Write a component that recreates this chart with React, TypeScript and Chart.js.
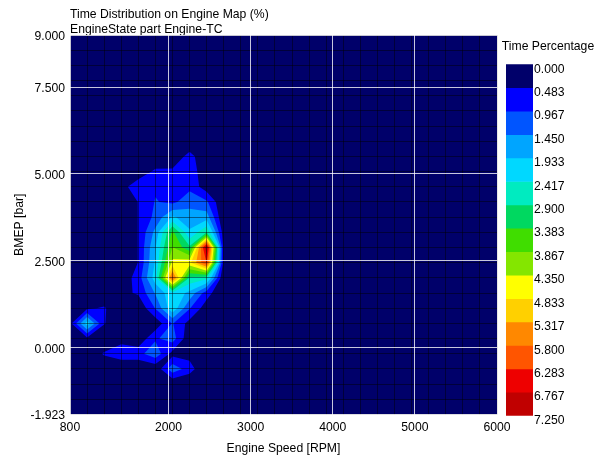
import React, { useEffect, useRef } from "react";
import { Chart, registerables } from "chart.js";

Chart.register(...registerables);

const speedNodes = [800, 1008, 1216, 1424, 1632, 1840, 2048, 2256, 2464, 2672, 2880, 3088, 3296, 3504, 3712, 3920, 4128, 4336, 4544, 4752, 4960, 5168, 5376, 5584, 5792, 6000];
const bmepNodes = [-1.923, -1.486, -1.049, -0.612, -0.175, 0.262, 0.699, 1.136, 1.572, 2.009, 2.446, 2.883, 3.32, 3.757, 4.194, 4.631, 5.068, 5.505, 5.942, 6.379, 6.815, 7.252, 7.689, 8.126, 8.563, 9.0];

// rows follow bmepNodes, columns follow speedNodes; everything not listed reads 0
const row3 = [0, 0, 0, 0, 0, 0.1, 1.3, 0.7, 0, 0];
const row4 = [0, 0, 0.55, 0.8, 0.8, 1.3, 0.3, 0.3, 0, 0];
const row5 = [0.45, 0.35, 0, 0.3, 0.1, 0.9, 1.2, 0.1, 0, 0];
const row6 = [0.3, 2.2, 0.52, 0, 0, 0.15, 1.0, 0.3, 0, 0];
const row7 = [0, 0.4, 0.55, 0, 0.05, 1.0, 2.3, 1.0, 0.2, 0];
const row8 = [0, 0, 0, 0.35, 0.55, 1.5, 2.3, 1.8, 0.7, 0];
const row9 = [0, 0, 0, 0.15, 0.7, 2.2, 6.0, 2.8, 2.6, 0];
const row10 = [0, 0, 0, 0, 0.5, 2.0, 4.5, 4.7, 6.3, 0.25];
const row11 = [0, 0, 0, 0, 0.5, 1.9, 3.9, 3.0, 7.2, 0.25];
const row12 = [0, 0, 0, 0, 0.5, 1.6, 3.5, 2.0, 2.9, 0.2];
const row13 = [0, 0, 0, 0, 0.5, 1.1, 2.0, 1.7, 1.7, 0];
const row14 = [0, 0, 0, 0, 0.5, 1.0, 0.85, 1.25, 1.05, 0];
const row15 = [0, 0, 0, 0.25, 0.85, 0.9, 0.8, 0.85, 0.2, 0];
const row16 = [0, 0, 0, 0, 0.1, 0.6, 0.6, 0.8, 0.1, 0];
const row17 = [0, 0, 0, 0, 0, 0, 0.05, 0.7, 0, 0];
const rowsByIndex: Record<number, number[]> = { 3: row3, 4: row4, 5: row5, 6: row6, 7: row7, 8: row8, 9: row9, 10: row10, 11: row11, 12: row12, 13: row13, 14: row14, 15: row15, 16: row16, 17: row17 };

const levels = [0, 0.483, 0.967, 1.45, 1.933, 2.417, 2.9, 3.383, 3.867, 4.35, 4.833, 5.317, 5.8, 6.283, 6.767, 7.25];
const bandColors = ["#00006a", "#0000ff", "#0055ff", "#00a5ff", "#00d8ff", "#00ebc0", "#00d860", "#40dd00", "#84e600", "#ffff00", "#ffd000", "#ff8800", "#ff5500", "#ee0000", "#c00000"];
const speedTicks = [800, 2000, 3000, 4000, 5000, 6000];
const bmepTicks = [-1.923, 0, 2.5, 5, 7.5, 9];

const FONT = "'Liberation Sans', Arial, sans-serif";
const valueAt = (j: number, i: number) => (rowsByIndex[j] && rowsByIndex[j][i]) || 0;

const gridPoints = bmepNodes.flatMap((y, j) => speedNodes.map((x, i) => ({ x, y, v: valueAt(j, i) })));

type P = { x: number; y: number; v: number };
function clipPoly(cell: P[], level: number): P[] {
  const out: P[] = [];
  for (let k = 0; k < cell.length; k++) {
    const a = cell[k];
    const b = cell[(k + 1) % cell.length];
    const aIn = a.v >= level;
    const bIn = b.v >= level;
    if (aIn) out.push(a);
    if (aIn !== bIn) {
      const t = (level - a.v) / (b.v - a.v);
      out.push({ x: a.x + t * (b.x - a.x), y: a.y + t * (b.y - a.y), v: level });
    }
  }
  return out;
}
function clipCell(a: P, b: P, c: P, d: P, level: number): P[][] {
  const A = a.v >= level, B = b.v >= level, C = c.v >= level, D = d.v >= level;
  if (A === C && B === D && A !== B) {
    // saddle: keep the two high corners apart
    if (!A) return [clipPoly([a, b, c], level), clipPoly([a, c, d], level)];
    return [clipPoly([b, c, d], level), clipPoly([b, d, a], level)];
  }
  return [clipPoly([a, b, c, d], level)];
}

const contourPlugin = {
  id: "contourFill",
  beforeDatasetsDraw(chart: any) {
    const { ctx, chartArea, scales } = chart;
    const pts: P[] = chart.data.datasets[0].data;
    const nx = speedNodes.length;
    const ny = bmepNodes.length;
    const at = (j: number, i: number) => pts[j * nx + i];
    ctx.save();
    ctx.beginPath();
    ctx.rect(chartArea.left, chartArea.top, chartArea.right - chartArea.left, chartArea.bottom - chartArea.top);
    ctx.clip();
    ctx.fillStyle = bandColors[0];
    ctx.fillRect(chartArea.left, chartArea.top, chartArea.right - chartArea.left, chartArea.bottom - chartArea.top);
    for (let b = 1; b < bandColors.length; b++) {
      ctx.beginPath();
      for (let j = 0; j < ny - 1; j++) {
        for (let i = 0; i < nx - 1; i++) {
          const polys = clipCell(at(j, i), at(j, i + 1), at(j + 1, i + 1), at(j + 1, i), levels[b]);
          for (const poly of polys) {
            if (poly.length < 3) continue;
            poly.forEach((p, n) => {
              const px = scales.x.getPixelForValue(p.x);
              const py = scales.y.getPixelForValue(p.y);
              if (n === 0) ctx.moveTo(px, py);
              else ctx.lineTo(px, py);
            });
            ctx.closePath();
          }
        }
      }
      ctx.fillStyle = bandColors[b];
      ctx.fill();
    }
    ctx.restore();
  },
};

export default function App() {
  const mainRef = useRef<HTMLCanvasElement>(null);
  const barRef = useRef<HTMLCanvasElement>(null);

  useEffect(() => {
    const textFont = { family: FONT, size: 12.2 };
    const setTicks = (vals: number[]) => (s: any) => {
      s.ticks = vals.map((value) => ({ value }));
    };
    const main = new Chart(mainRef.current as HTMLCanvasElement, {
      type: "scatter",
      data: { datasets: [{ label: "Time Percentage", data: gridPoints as any, pointRadius: 0, showLine: false }] },
      plugins: [contourPlugin as any],
      options: {
        animation: false,
        responsive: false,
        events: [],
        layout: { padding: { left: 0, right: 103, top: 0, bottom: 0 } },
        plugins: {
          legend: { display: false },
          tooltip: { enabled: false },
          title: {
            display: true,
            text: ["Time Distribution on Engine Map (%)", "EngineState part Engine-TC"],
            align: "start",
            fullSize: false,
            color: "#000",
            font: { ...textFont, lineHeight: 15 / 12.2, weight: "normal" },
            padding: { top: 7.5, bottom: -2.5 },
          },
        },
        scales: {
          x: {
            type: "linear",
            position: "bottom",
            min: 800,
            max: 6000,
            afterBuildTicks: setTicks(speedTicks),
            afterFit: (s: any) => { s.height = 42.5; },
            grid: { color: "rgba(255,255,255,0.78)", lineWidth: 1, drawTicks: false, z: 2 },
            border: { display: false },
            ticks: { autoSkip: false, maxRotation: 0, color: "#000", font: textFont, padding: 5.5, callback: (v: any) => String(v) },
            title: { display: true, text: "Engine Speed [RPM]", color: "#000", font: textFont, padding: { top: 0, bottom: 1.5 } },
          },
          y: {
            type: "linear",
            position: "left",
            min: -1.923,
            max: 9,
            afterBuildTicks: setTicks(bmepTicks),
            afterFit: (s: any) => { s.width = 70; },
            grid: { color: "rgba(255,255,255,0.78)", lineWidth: 1, drawTicks: false, z: 2 },
            border: { display: false },
            ticks: { autoSkip: false, color: "#000", font: textFont, padding: 5, labelOffset: 1.5, callback: (v: any) => Number(v).toFixed(3) },
            title: { display: true, text: "BMEP [bar]", color: "#000", font: textFont, padding: { top: 12, bottom: 0 } },
          },
          xMinor: {
            type: "linear",
            position: "top",
            min: 800,
            max: 6000,
            afterBuildTicks: setTicks(speedNodes),
            afterFit: (s: any) => { s.height = 0; },
            grid: { color: "rgba(0,0,0,0.45)", lineWidth: 1, drawTicks: false, z: 1 },
            border: { display: false },
            ticks: { display: false, autoSkip: false },
          },
          yMinor: {
            type: "linear",
            position: "left",
            min: -1.923,
            max: 9,
            afterBuildTicks: setTicks(bmepNodes),
            afterFit: (s: any) => { s.width = 0; },
            grid: { color: "rgba(0,0,0,0.45)", lineWidth: 1, drawTicks: false, z: 1 },
            border: { display: false },
            ticks: { display: false, autoSkip: false },
          },
        } as any,
      } as any,
    });

    const bar = new Chart(barRef.current as HTMLCanvasElement, {
      type: "bar",
      data: {
        labels: ["Time Percentage"],
        datasets: bandColors.map((c, k) => ({
          label: levels[k].toFixed(3),
          data: [[levels[k], levels[k + 1]]] as any,
          backgroundColor: c,
          borderWidth: 0,
          grouped: false,
          barPercentage: 1,
          categoryPercentage: 1,
          yAxisID: "y",
        })),
      },
      options: {
        animation: false,
        responsive: false,
        events: [],
        layout: { padding: { left: 0, right: 0, top: 0, bottom: 41.3 } },
        plugins: {
          legend: { display: false },
          tooltip: { enabled: false },
          title: {
            display: true,
            text: "Time Percentage",
            color: "#000",
            font: { ...textFont, lineHeight: 1.2, weight: "normal" },
            padding: { top: 39.6, bottom: 10.1 },
          },
        },
        scales: {
          x: { display: false },
          y: {
            type: "linear",
            position: "right",
            reverse: true,
            min: 0,
            max: 7.25,
            afterBuildTicks: setTicks(levels),
            afterFit: (s: any) => { s.width = 67; },
            grid: { display: false, drawTicks: false },
            border: { display: false },
            ticks: { autoSkip: false, color: "#000", font: textFont, padding: 1, labelOffset: 4.8, callback: (v: any) => Number(v).toFixed(3) },
          },
          spacer: {
            type: "linear",
            position: "left",
            afterFit: (s: any) => { s.width = 10; },
            grid: { display: false, drawTicks: false },
            border: { display: false },
            ticks: { display: false },
          },
        } as any,
      } as any,
    });

    return () => {
      main.destroy();
      bar.destroy();
    };
  }, []);

  return (
    <div style={{ position: "fixed", left: 0, top: 0, width: 600, height: 457, background: "#fff", overflow: "hidden" }}>
      <canvas ref={mainRef} width={600} height={457} style={{ position: "absolute", left: 0, top: 0 }} />
      <canvas ref={barRef} width={104} height={457} style={{ position: "absolute", left: 496, top: 0 }} />
    </div>
  );
}
